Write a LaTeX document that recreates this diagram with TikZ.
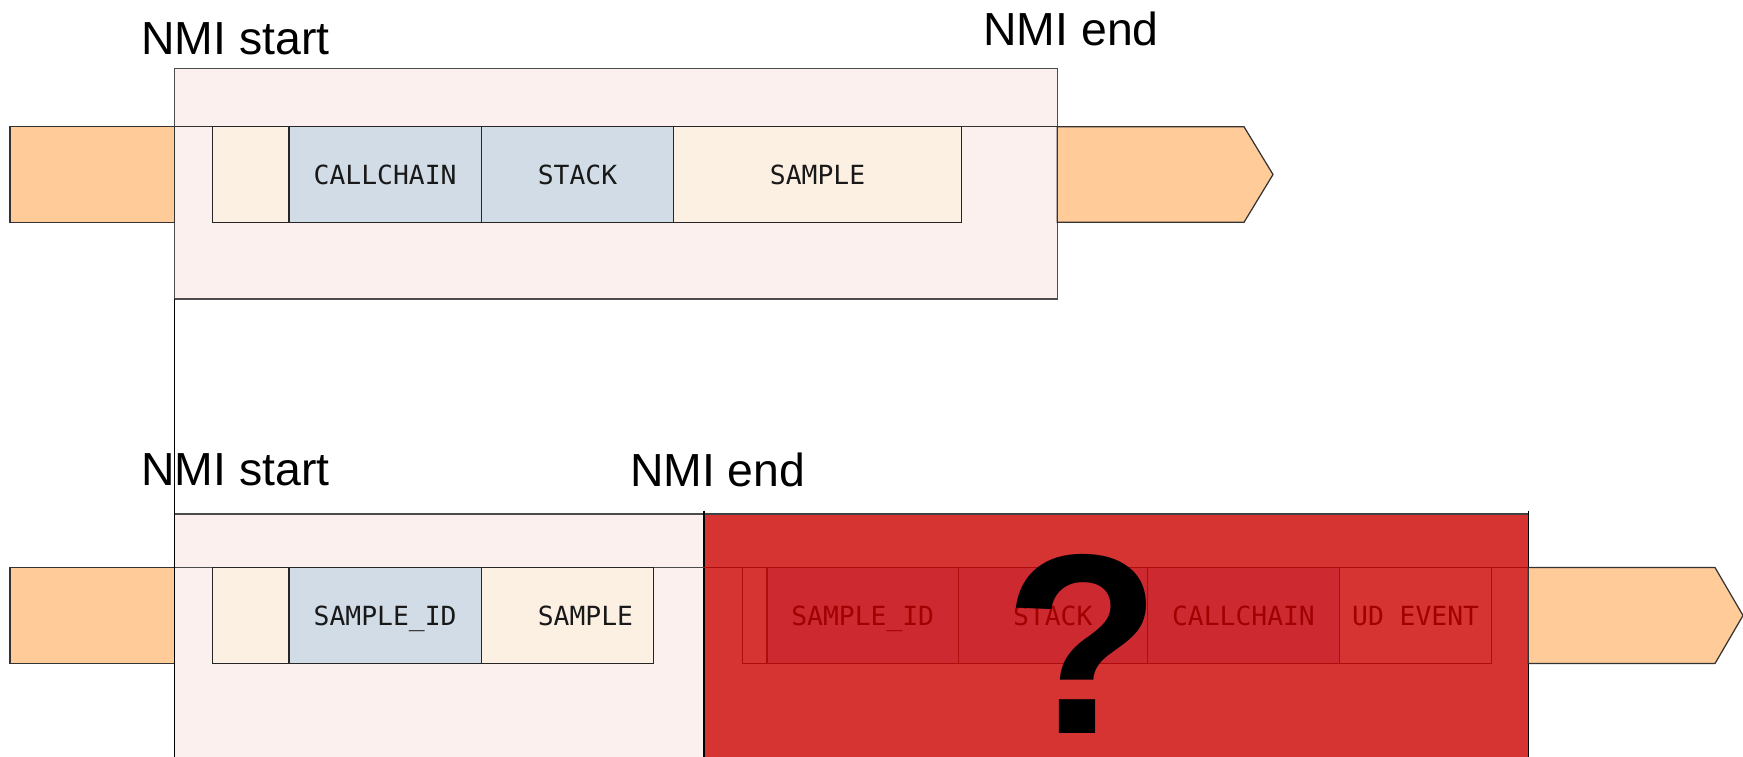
\documentclass[tikz,border=0pt]{standalone}
\usepackage{fontspec}
\setmainfont{Liberation Sans}
\newfontfamily\fieldfont{DejaVu Sans Mono}
\usepackage{tikz}
\usetikzlibrary{positioning}
\definecolor{laneorange}{HTML}{FFCB99}
\definecolor{nmipink}{HTML}{FCF0EE}
\definecolor{hdrbeige}{HTML}{FCF0E3}
\definecolor{regblue}{HTML}{D1DCE6}
\definecolor{lostred}{HTML}{D63333}
\definecolor{lostdark}{HTML}{CC2A30}
\definecolor{lostline}{HTML}{B00C0C}
\definecolor{losttext}{HTML}{A00000}
\tikzset{
    lane/.style={draw=black!80, line width=0.35pt, fill=laneorange},
    nmibox/.style={draw=black!70, line width=0.35pt, fill=nmipink},
    field/.style={rectangle, draw=black!85, line width=0.35pt, inner sep=0pt, outer sep=0pt, minimum height=0.956cm, text height=5.5pt, text depth=0pt, font=\fieldfont\fontsize{7.5}{9}\selectfont, text=black!90},
    hdr/.style={field, fill=hdrbeige},
    reg/.style={field, fill=regblue},
    lost/.style={field, draw=lostline, fill=lostdark, text=losttext},
    lostpad/.style={lost, fill=lostred},
    nmilabel/.style={inner sep=0pt, anchor=base west, font=\fontsize{13.2}{15}\selectfont}
}

\begin{document}
\begin{tikzpicture}
    \useasboundingbox (0,0) rectangle (17.43,-7.56);
    \clip (0,0) rectangle (17.43,-7.56);

    % NMI handled in time
    \draw[nmibox] (1.743,-0.685) rectangle (10.573,-2.99);
    \draw[lane] (0.10,-1.267) rectangle (1.743,-2.223);
    \draw[lane] (10.573,-1.267) -- (12.44,-1.267) -- (12.73,-1.745) -- (12.44,-2.223) -- (10.573,-2.223) -- cycle;
    \draw[black!80, line width=0.35pt] (1.743,-1.267) -- (10.573,-1.267);

    \node (hdrA) [hdr, minimum width=0.767cm, anchor=west] at (2.123,-1.745) {};
    \node (callA) [reg, minimum width=1.923cm, right=0pt of hdrA] {CALLCHAIN};
    \node (stackA) [reg, minimum width=1.923cm, right=0pt of callA] {STACK};
    \node (sampleA) [hdr, minimum width=2.879cm, right=0pt of stackA] {SAMPLE};

    \node (startA) [nmilabel] at (1.407,-0.54) {NMI start};
    \node (endA) [nmilabel] at (9.827,-0.45) {NMI end};

    % NMI ends before the record is written
    \draw[nmibox] (1.743,-5.14) rectangle (7.04,-7.8);
    \fill[lostred] (7.04,-5.14) rectangle (15.283,-7.8);
    \draw[black!75, line width=0.35pt] (7.04,-5.14) -- (15.283,-5.14);
    \draw[line width=0.35pt] (7.04,-5.107) -- (7.04,-7.8);
    \draw[line width=0.35pt] (15.283,-5.107) -- (15.283,-7.8);

    \draw[lane] (0.10,-5.675) rectangle (1.743,-6.635);
    \draw[lane] (15.283,-5.675) -- (17.15,-5.675) -- (17.43,-6.155) -- (17.15,-6.635) -- (15.283,-6.635) -- cycle;
    \draw[black!70, line width=0.35pt] (1.743,-5.675) -- (7.04,-5.675);
    \draw[lostline, line width=0.35pt] (7.04,-5.675) -- (15.283,-5.675);

    \node (hdrB) [hdr, minimum width=0.767cm, anchor=west] at (2.123,-6.155) {};
    \node (idB) [reg, minimum width=1.923cm, right=0pt of hdrB] {SAMPLE\_ID};
    \node (sampleB) [hdr, minimum width=1.723cm, right=0pt of idB] {\hspace*{0.36cm}SAMPLE};

    \node (hdrC) [lostpad, minimum width=0.244cm, anchor=west] at (7.427,-6.155) {};
    \node (idC) [lost, minimum width=1.912cm, right=0pt of hdrC] {SAMPLE\_ID};
    \node (stackC) [lost, minimum width=1.89cm, right=0pt of idC] {STACK};
    \node (callC) [lost, minimum width=1.923cm, right=0pt of stackC] {CALLCHAIN};
    \node (udC) [lostpad, minimum width=1.52cm, right=0pt of callC] {UD EVENT};

    \node (startB) [nmilabel] at (1.407,-4.85) {NMI start};
    \node (endB) [nmilabel] at (6.293,-4.867) {NMI end};
    \draw[line width=0.35pt] (1.743,-2.99) -- (1.743,-7.8);

    \node (lostmark) [inner sep=0pt, anchor=base, font=\bfseries\fontsize{73}{73}\selectfont] at (10.825,-7.33) {?};
\end{tikzpicture}
\end{document}
